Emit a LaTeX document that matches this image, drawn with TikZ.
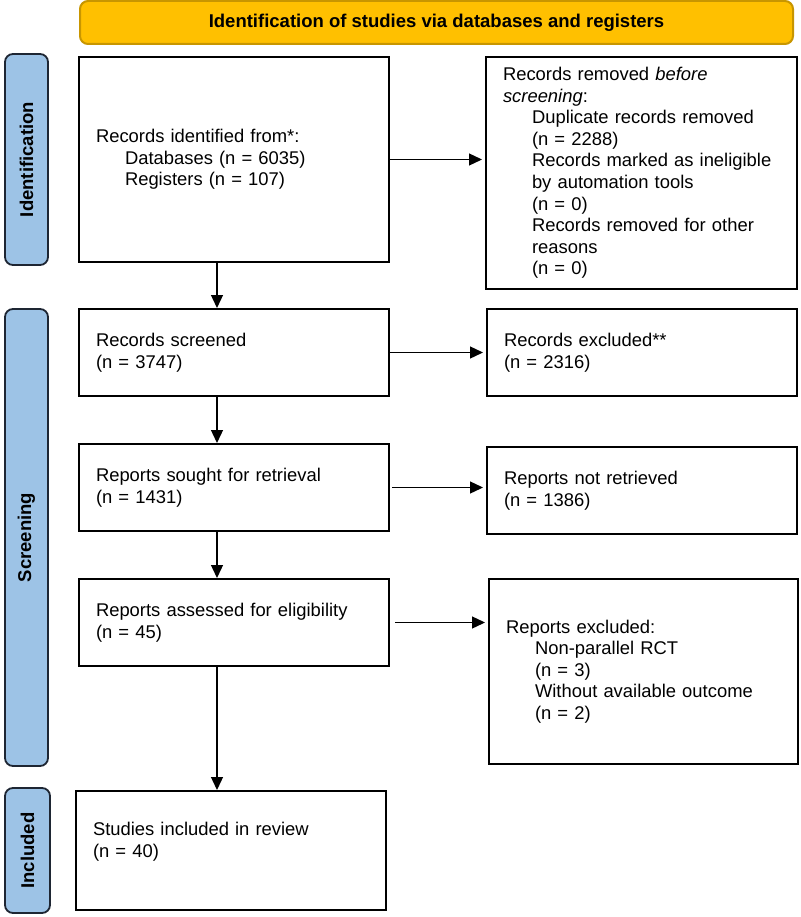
\documentclass[tikz,border=0pt]{standalone}
\usepackage{fontspec}
\setmainfont{Liberation Sans}
\usetikzlibrary{arrows.meta}
\definecolor{gold}{HTML}{FFC000}
\definecolor{golddark}{HTML}{C89600}
\definecolor{sideblue}{HTML}{9DC3E6}
\definecolor{sideedge}{HTML}{1E2633}
\newcommand\fsbox{\fontsize{18.4}{21.6}\selectfont}
\newcommand\fslab{\fontsize{18.5}{22}\selectfont\bfseries}
\newcommand\ind{\hspace*{29pt}}
\begin{document}
\begin{tikzpicture}[x=1pt,y=-1pt,
  box/.style={draw, line width=2pt, inner xsep=17pt, inner ysep=0pt, align=left, font=\fsbox, anchor=center},
  sidelabel/.style={draw=sideedge, fill=sideblue, line width=1.8pt, rounded corners=8pt, rotate=90, font=\fslab, inner sep=0pt, anchor=center},
  banner/.style={draw=golddark, fill=gold, line width=2pt, rounded corners=8pt, font=\fslab, inner sep=0pt, anchor=center},
  arr/.style={-{Triangle[length=13pt,width=12pt]}, line width=1.3pt}]
\useasboundingbox (0,0) rectangle (800,917);
\fill[white] (0,0) rectangle (800,917);

\node[banner, minimum width=713pt, minimum height=43pt] (ban) at (436.5,22.5) {Identification of studies via databases and registers};

\node[sidelabel, minimum width=211pt, minimum height=43pt] (lab1) at (26.5,159.5) {Identification};
\node[sidelabel, minimum width=457pt, minimum height=43pt] (lab2) at (26.5,537.5) {Screening};
\node[sidelabel, minimum width=125pt, minimum height=45pt] (lab3) at (27.5,850.5) {Included};

\node[box, minimum width=310pt, minimum height=205pt, text width=276pt] (b1) at (234,159.5)
  {Records identified from*:\\ \ind Databases (n = 6035)\\ \ind Registers (n = 107)};
\node[box, minimum width=311pt, minimum height=232pt, text width=277pt] (b2) at (641.5,173)
  {Records removed \textit{before}\\ \textit{screening}:\\ \ind Duplicate records removed\\ \ind (n = 2288)\\ \ind Records marked as ineligible\\ \ind by automation tools\\ \ind (n = 0)\\ \ind Records removed for other\\ \ind reasons\\ \ind (n = 0)};

\node[box, minimum width=310pt, minimum height=87pt, text width=276pt] (b3) at (234,352.5)
  {Records screened\\ (n = 3747)};
\node[box, minimum width=310pt, minimum height=87pt, text width=276pt] (b4) at (642,352.5)
  {Records excluded**\\ (n = 2316)};

\node[box, minimum width=310pt, minimum height=87pt, text width=276pt] (b5) at (234,487.5)
  {Reports sought for retrieval\\ (n = 1431)};
\node[box, minimum width=310pt, minimum height=87pt, text width=276pt] (b6) at (642,490.5)
  {Reports not retrieved\\ (n = 1386)};

\node[box, minimum width=310pt, minimum height=87pt, text width=276pt] (b7) at (234,622.5)
  {Reports assessed for eligibility\\ (n = 45)};
\node[box, minimum width=309pt, minimum height=185pt, text width=275pt] (b8) at (643.5,671.5)
  {Reports excluded:\\ \ind Non-parallel RCT\\ \ind (n = 3)\\ \ind Without available outcome\\ \ind (n = 2)};

\node[box, minimum width=310pt, minimum height=119pt, text width=276pt] (b9) at (231,850.5)
  {Studies included in review\\ (n = 40)\\ \mbox{}};

\coordinate (vx) at (217,0);

\draw[arr] (b1.south -| vx) -- (b3.north -| vx);
\draw[arr] (b3.south -| vx) -- (b5.north -| vx);
\draw[arr] (b5.south -| vx) -- (b7.north -| vx);
\draw[arr] (b7.south -| vx) -- (b9.north -| vx);

\draw[arr, shorten >=3pt] (b1.east) -- (b1.east -| b2.west);
\draw[arr, shorten >=3pt] (b3.east) -- (b3.east -| b4.west);
\draw[arr, shorten >=3pt, shorten <=2pt] (b5.east) -- (b5.east -| b6.west);
\draw[arr, shorten >=3pt, shorten <=5pt] (b7.east) -- (b7.east -| b8.west);
\end{tikzpicture}
\end{document}
